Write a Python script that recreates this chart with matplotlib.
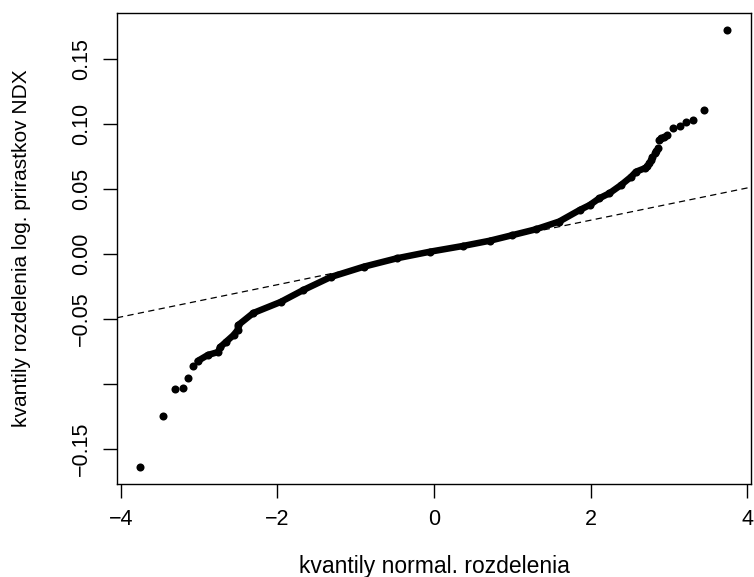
import matplotlib
matplotlib.use("Agg")
import matplotlib.pyplot as plt

# isolated points in the lower tail (theoretical quantile, sample quantile)
low_x = [-3.75, -3.46, -3.31, -3.21, -3.14, -3.08]
low_y = [-0.1638, -0.1246, -0.1038, -0.1031, -0.0956, -0.0862]

# dense body of the curve
body_x = [-3.02, -2.89, -2.76, -2.73, -2.66, -2.56, -2.51, -2.50, -2.31, -1.96,
          -1.67, -1.32, -0.90, -0.475, -0.05, 0.37, 0.71, 1.00, 1.30, 1.60,
          1.86, 1.99, 2.11, 2.24, 2.39, 2.52, 2.58, 2.69]
body_y = [-0.0823, -0.0777, -0.0754, -0.0715, -0.0677, -0.0623, -0.0585, -0.0546,
          -0.0454, -0.0369, -0.0277, -0.0177, -0.0098, -0.0033, 0.0018, 0.0062,
          0.0102, 0.0145, 0.0190, 0.0250, 0.0338, 0.0377, 0.0428, 0.0467,
          0.0531, 0.0595, 0.0633, 0.0659]

# upper tail points
up_x = [2.72, 2.75, 2.77, 2.79, 2.82, 2.84, 2.86, 2.88, 2.90, 2.94, 2.98,
        3.05, 3.14, 3.22, 3.31, 3.45, 3.74]
up_y = [0.0675, 0.0697, 0.0725, 0.0749, 0.0775, 0.0795, 0.0813, 0.0877,
        0.0890, 0.0900, 0.0915, 0.0967, 0.0987, 0.1013, 0.1031, 0.1108, 0.1723]

# reference line (qqline)
line_a = 0.0012
line_b = 0.0124

x_ticks = [-4, -2, 0, 2, 4]
x_labels = ["\u22124", "\u22122", "0", "2", "4"]
y_ticks = [-0.15, -0.10, -0.05, 0.00, 0.05, 0.10, 0.15]
y_labels = ["\u22120.15", "", "\u22120.05", "0.00", "0.05", "0.10", "0.15"]

plt.rcParams["font.family"] = ["Liberation Sans", "DejaVu Sans"]

fig = plt.figure(figsize=(7.54, 5.77), dpi=100)
ax = fig.add_axes([117 / 754, 1 - 484 / 577, 634 / 754, 471 / 577])

ax.plot(body_x, body_y, "-", color="black", lw=4.7, solid_capstyle="round",
        solid_joinstyle="round")
ax.plot(low_x + body_x + up_x, low_y + body_y + up_y, "o", color="black",
        ms=5.8, mew=0)

xl = (-4.05, 4.05)
ax.plot(xl, [line_a + line_b * v for v in xl], color="black", lw=0.9,
        dashes=(5, 3.5))

ax.set_xlim(xl)
ax.set_ylim(-0.1769, 0.1854)
ax.set_xticks(x_ticks)
ax.set_xticklabels(x_labels)
ax.set_yticks(y_ticks)
ax.set_yticklabels(y_labels, rotation=90, va="center")
ax.tick_params(direction="out", length=10, width=1, labelsize=15.5, pad=8)
for s in ax.spines.values():
    s.set_linewidth(1)

ax.set_xlabel("kvantily normal. rozdelenia", fontsize=16.5, va="center")
ax.xaxis.set_label_coords(0.5, (484 - 566) / 471)
ax.set_ylabel("kvantily rozdelenia log. prirastkov NDX", fontsize=15, va="center")
ax.yaxis.set_label_coords((22 - 117) / 634, 0.5)

fig.savefig("out.png", dpi=100)
